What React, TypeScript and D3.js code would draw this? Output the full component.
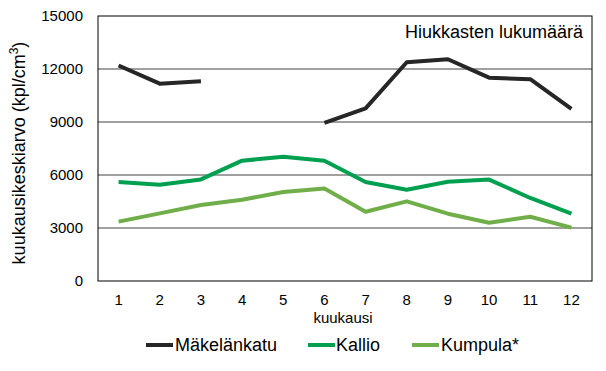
import React from 'react';
import * as d3 from 'd3';

const months = [1, 2, 3, 4, 5, 6, 7, 8, 9, 10, 11, 12];
const makelankatu: (number | null)[] = [12200, 11170, 11300, null, null, 8950, 9770, 12380, 12550, 11510, 11420, 9740];
const kallio = [5600, 5450, 5750, 6810, 7030, 6810, 5600, 5170, 5620, 5740, 4700, 3810];
const kumpula = [3360, 3830, 4300, 4600, 5040, 5230, 3920, 4510, 3810, 3300, 3640, 3020];
const yTicks = [0, 3000, 6000, 9000, 12000, 15000];

const seriesNames = ['Mäkelänkatu', 'Kallio', 'Kumpula*'];
const seriesColors = ['#262626', '#00a050', '#70ae4a'];

const W = 606;
const H = 371;
const plot = { left: 98, right: 592, top: 16, bottom: 281 };
const font = '"Liberation Sans", Arial, sans-serif';

export default function App() {
  const x = d3.scaleBand<number>().domain(months).range([plot.left, plot.right]);
  const y = d3.scaleLinear().domain([0, 15000]).range([plot.bottom, plot.top]);
  const cx = (m: number) => (x(m) ?? 0) + x.bandwidth() / 2;

  const line = d3
    .line<{ m: number; v: number | null }>()
    .defined((d) => d.v != null)
    .x((d) => cx(d.m))
    .y((d) => y(d.v as number));

  const all = [makelankatu, kallio, kumpula];

  // legend layout
  const legend = [
    { lx: 146, tx: 175 },
    { lx: 308, tx: 336 },
    { lx: 412, tx: 441 },
  ];

  return (
    <svg width={W} height={H} style={{ position: 'absolute', left: 0, top: 0 }}>
      <rect width={W} height={H} fill="#fff" />
      {yTicks.slice(1, -1).map((t) => (
        <line key={t} x1={plot.left} x2={plot.right} y1={y(t)} y2={y(t)} stroke="#404040" strokeWidth={1} />
      ))}
      <rect
        x={plot.left}
        y={plot.top}
        width={plot.right - plot.left}
        height={plot.bottom - plot.top}
        fill="none"
        stroke="#000"
        strokeWidth={1}
      />
      {yTicks.map((t) => (
        <text key={t} x={83} y={y(t)} dy="0.35em" textAnchor="end" fontFamily={font} fontSize={15} fill="#000">
          {t}
        </text>
      ))}
      {months.map((m) => (
        <text key={m} x={cx(m)} y={305} textAnchor="middle" fontFamily={font} fontSize={15} fill="#000">
          {m}
        </text>
      ))}
      <text x={343} y={323} textAnchor="middle" fontFamily={font} fontSize={15} fill="#000">
        kuukausi
      </text>
      <text
        transform="translate(25,153) rotate(-90)"
        textAnchor="middle"
        fontFamily={font}
        fontSize={18}
        fill="#000"
      >
        kuukausikeskiarvo (kpl/cm<tspan dy={-7} fontSize={12}>3</tspan><tspan dy={7}>)</tspan>
      </text>
      <text x={583} y={38} textAnchor="end" fontFamily={font} fontSize={18} fill="#000">
        Hiukkasten lukumäärä
      </text>
      {all.map((vals, i) => (
        <path
          key={i}
          d={line(months.map((m, j) => ({ m, v: vals[j] }))) ?? ''}
          fill="none"
          stroke={seriesColors[i]}
          strokeWidth={4}
          strokeLinejoin="round"
        />
      ))}
      {seriesNames.map((n, i) => (
        <g key={n}>
          <line x1={legend[i].lx} x2={legend[i].lx + 27} y1={345} y2={345} stroke={seriesColors[i]} strokeWidth={4} />
          <text x={legend[i].tx} y={351} fontFamily={font} fontSize={18} fill="#000">
            {n}
          </text>
        </g>
      ))}
    </svg>
  );
}
